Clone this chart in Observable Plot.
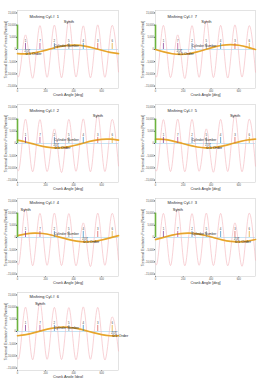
<!DOCTYPE html>
<html><head><meta charset="utf-8">
<script src="https://cdn.jsdelivr.net/npm/d3@7"></script>
<script src="https://cdn.jsdelivr.net/npm/@observablehq/plot@0.6"></script>
<style>
html,body{margin:0;padding:0;background:#fff;}
#fig{position:relative;width:261px;height:378px;overflow:hidden;font-family:"Liberation Sans",Arial,sans-serif;}
#fig svg{position:absolute;overflow:visible;background:transparent;}
</style></head><body><div id="fig"></div>
<script>
// ---------- data ----------
const panelCylinders = [1, 7, 2, 5, 4, 3, 6];           // misfiring cylinder per panel
const firingOrder = [1, 7, 2, 5, 4, 3, 6];              // cylinder numbers at the markers
const cylAngle = [57, 160, 263, 366, 469, 572, 675];    // deg
const markerHeight = [2500, 2500, 2500, 2500, 2500, 2500, 2500];
const xTicks = [0, 200, 400, 600];
const yTicks = [-15000, -10000, -5000, 0, 5000, 10000, 15000];
const greenBar = [0, 10000];

const synthAngle = [0, 6, 57, 108, 160, 211, 263, 314, 366, 417, 469, 520, 572, 623, 675, 720];
const synthCyl1 = [-10800, -11200, 6000, -11800, 9800, -11400, 10000, -11600, 12000, -11300, 9700, -11600, 10100, -11400, 9900, -9200];
const synthCyl7 = [-10900, -11300, 9900, -11500, 6000, -11900, 9800, -11400, 12000, -11500, 9900, -11700, 10100, -11300, 9800, -9300];
const synthCyl2 = [-10800, -11200, 10000, -11600, 9800, -11500, 6000, -11900, 9900, -11400, 10100, -11600, 12000, -11500, 9900, -9200];
const synthCyl5 = [-10900, -11300, 9800, -11500, 10000, -11600, 9900, -11400, 6000, -11800, 9900, -11500, 12000, -11600, 10000, -9300];
const synthCyl4 = [-10700, -11100, 12000, -11600, 9900, -11400, 10000, -11500, 9800, -11600, 6000, -11900, 10000, -11400, 9900, -9200];
const synthCyl3 = [-10800, -11200, 9900, -11500, 12000, -11600, 9800, -11400, 10000, -11500, 9900, -11600, 6000, -11800, 10000, -9300];
const synthCyl6 = [-10900, -11300, 10000, -11600, 12000, -11400, 9900, -11500, 9800, -11600, 10100, -11400, 9900, -11700, 6000, -8000];

const halfAngle = [0, 60, 120, 180, 240, 300, 360, 420, 480, 540, 600, 660, 720];
const halfCyl1 = [-1700, -1770, -1380, -620, 310, 1160, 1690, 1770, 1380, 620, -310, -1160, -1690];
const halfCyl7 = [0, -1000, -1730, -2000, -1730, -1000, 0, 1000, 1730, 2000, 1730, 1000, 0];
const halfCyl2 = [1380, 620, -310, -1160, -1690, -1770, -1380, -620, 310, 1160, 1690, 1770, 1380];
const halfCyl5 = [1780, 1660, 1100, 235, -690, -1430, -1780, -1660, -1100, -235, 690, 1430, 1780];
const halfCyl4 = [760, 1470, 1790, 1630, 1030, 160, -760, -1470, -1790, -1630, -1030, -160, 760];
const halfCyl3 = [-830, 80, 970, 1600, 1800, 1520, 830, -80, -970, -1600, -1800, -1520, -830];
const halfCyl6 = [-1740, -1270, -470, 470, 1270, 1740, 1740, 1270, 470, -470, -1270, -1740, -1740];

const synthSeries = [synthCyl1, synthCyl7, synthCyl2, synthCyl5, synthCyl4, synthCyl3, synthCyl6];
const halfSeries = [halfCyl1, halfCyl7, halfCyl2, halfCyl5, halfCyl4, halfCyl3, halfCyl6];

// ---------- labels / styles ----------
const yLabel = "Torsional Excitation Forces [Nm/rad]";
const xLabel = "Crank Angle [deg]";
const markerColors = ["#7E2F8E", "#B0408A", "#4D7EBE", "#8A8A8A", "#2E86C1", "#D9534F", "#E0A020"];
const anchors = {cylLabel: [350, 1400], orderLabel: -1900, tagLabel: -500};
const font = "Liberation Sans, Arial, sans-serif";

const fig = document.getElementById("fig");
const rowTop = [0, 94, 188, 282];

panelCylinders.forEach((cyl, i) => {
  const col = i % 2, row = Math.floor(i / 2);
  const synth = synthAngle.map((a, k) => ({a, v: synthSeries[i][k]}));
  const half = halfAngle.map((a, k) => ({a, v: halfSeries[i][k]}));
  const markers = cylAngle.map((a, k) => ({a, v: markerHeight[k], cyl: firingOrder[k], color: markerColors[k]}));
  const peak = synth.reduce((m, d) => d.v > m.v ? d : m, synth[0]);
  const mis = markers[i];
  const left = col === 0 ? 17 : 25;
  const chart = Plot.plot({
    width: col === 0 ? 130 : 131,
    height: 95,
    marginTop: 10, marginBottom: 7, marginLeft: left, marginRight: col === 0 ? 12 : 6,
    style: {fontSize: "2.6px", fontFamily: font, color: "#555", background: "transparent", overflow: "visible"},
    x: {domain: [0, 720], ticks: xTicks, tickSize: 1, tickPadding: 0.6, label: null},
    y: {domain: [-16000, 16000], ticks: yTicks, tickSize: 1, tickPadding: 0.6, label: null},
    marks: [
      Plot.frame({stroke: "#c8c8c8", strokeWidth: 0.5}),
      Plot.ruleY([0], {stroke: "#8cc8e8", strokeWidth: 0.5}),
      Plot.line(synth, {x: "a", y: "v", curve: "monotone-x", stroke: "#f3b3bb", strokeWidth: 0.6}),
      Plot.line(half, {x: "a", y: "v", curve: "natural", stroke: "#EDB120", strokeWidth: 1.7, strokeOpacity: 0.9}),
      Plot.line(half, {x: "a", y: "v", curve: "natural", stroke: "#D9822B", strokeWidth: 0.5}),
      Plot.ruleX([0], {y1: greenBar[0], y2: greenBar[1], stroke: "#6DB33F", strokeWidth: 1.6}),
      Plot.ruleX(markers, {x: "a", y1: 0, y2: "v", stroke: "color", strokeWidth: 0.7}),
      Plot.text(markers, {x: "a", y: "v", text: "cyl", dy: -2.2, fontSize: 2.8, fill: "#444"}),
      Plot.text([anchors.cylLabel], {x: d => d[0], y: d => d[1], text: () => "Cylinder Number", fontSize: 3.3, fill: "#333"}),
      Plot.text([mis], {x: "a", y: () => anchors.tagLabel, text: () => "ZOT", textAnchor: "start", dx: -1, fontSize: 2.8, fill: "#333"}),
      Plot.text([mis], {x: "a", y: () => anchors.orderLabel, text: () => "0.5 Order", textAnchor: "start", fontSize: 3.8, fill: "#222"}),
      Plot.text([peak], {x: "a", y: "v", text: () => "Synth", textAnchor: "start", dx: -5, dy: 1, fontSize: 4, fill: "#222"}),
      Plot.text([`Misfiring Cyl.#  ${cyl}`], {frameAnchor: "top-left", dx: 12, dy: row < 2 ? 5 : 2.5, textAnchor: "start", fontSize: 4, fill: "#222"}),
      Plot.text([yLabel], {frameAnchor: "left", textAnchor: "middle", rotate: -90, dx: col === 0 ? -12 : -13, fontSize: 3.6, fill: "#333"}),
      Plot.text([xLabel], {frameAnchor: "bottom", textAnchor: "middle", dy: 7.2, fontSize: 3.8, fill: "#333"})
    ]
  });
  chart.style.left = (col === 0 ? 0 : 130) + "px";
  chart.style.top = rowTop[row] + "px";
  fig.appendChild(chart);
});
</script></body></html>
